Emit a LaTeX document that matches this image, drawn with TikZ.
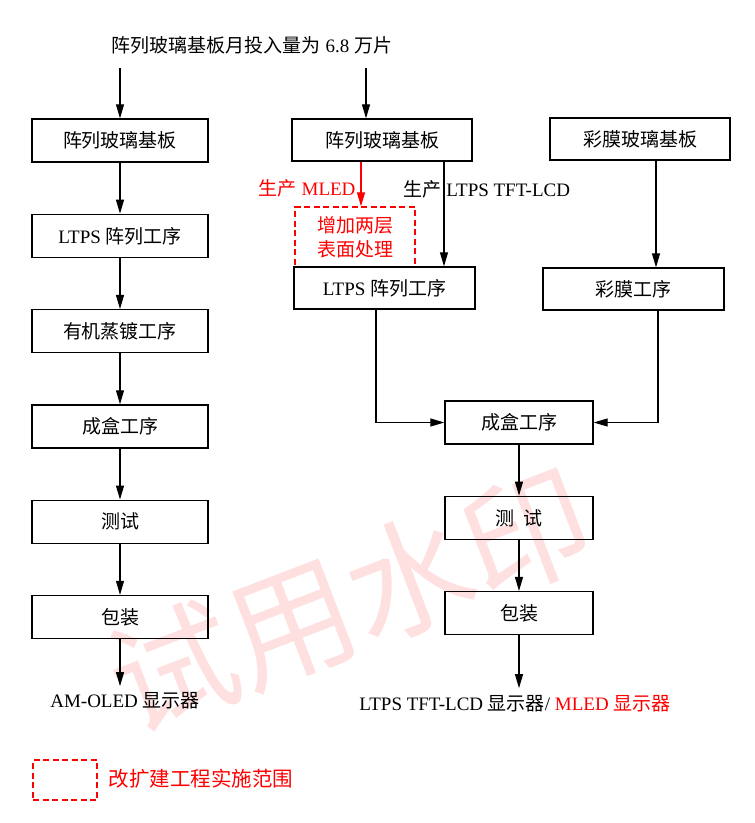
\documentclass[tikz,border=0pt]{standalone}
\usepackage{fontspec}
\setmainfont{Liberation Serif}
\newfontfamily\zhfont{Noto Sans CJK SC}
\newcommand{\zh}[1]{{\zhfont #1}}
\usepackage{tikz}
\usetikzlibrary{arrows.meta,positioning,calc}

\begin{document}
\begin{tikzpicture}[
  x=1pt, y=-1pt,
  font=\fontsize{19}{24}\selectfont,
  block/.style={rectangle, draw, line width=1.3pt, minimum width=176pt, minimum height=43pt, inner sep=2pt, align=center},
  redbox/.style={rectangle, draw=red, line width=1.3pt, dash pattern=on 6pt off 3.5pt, text=red, align=center, inner sep=2pt},
  arrow/.style={-{Triangle[length=14pt,width=8pt]}, line width=1.1pt},
  node distance=51pt
]
  \useasboundingbox (0,0) rectangle (755,823);

  % watermark
  \node[text=red!12, rotate=21, font=\zhfont\fontsize{126}{126}\selectfont] (wmark) at (350,600) {试用水印};

  \node (topline) at (252,45) {\zh{阵列玻璃基板月投入量为} 6.8 \zh{万片}};
  \coordinate (lsrc) at (120,68);
  \coordinate (msrc) at (366,68);

  % AM-OLED line
  \node[block] (l1) at (120,140.5) {\zh{阵列玻璃基板}};
  \node[block, below=of l1] (l2) {LTPS \zh{阵列工序}};
  \node[block, below=of l2] (l3) {\zh{有机蒸镀工序}};
  \node[block, below=of l3] (l4) {\zh{成盒工序}};
  \node[block, below=of l4] (l5) {\zh{测试}};
  \node[block, below=of l5] (l6) {\zh{包装}};
  \node (lout) at (125,701) {AM-OLED \zh{显示器}};

  \draw[arrow] (lsrc) -- (l1);
  \draw[arrow] (l1) -- (l2);
  \draw[arrow] (l2) -- (l3);
  \draw[arrow] (l3) -- (l4);
  \draw[arrow] (l4) -- (l5);
  \draw[arrow] (l5) -- (l6);
  \draw[arrow, shorten >=3pt] (l6.south) -- (l6.south |- lout.north);

  % LTPS TFT-LCD / MLED line
  \node[block, minimum width=180pt, minimum height=42pt] (m1) at (382,140) {\zh{阵列玻璃基板}};
  \node[redbox, minimum width=120pt, minimum height=60pt] (dbox) at (355,237) {\zh{增加两层}\\\zh{表面处理}};
  \node[block, minimum width=181pt, minimum height=42pt] (m2) at (384.5,288) {LTPS \zh{阵列工序}};
  \node[red, anchor=east] (mledlbl) at (359,188) {\zh{生产} MLED};
  \node[anchor=west] (ltpslbl) at (400,189) {\zh{生产} LTPS TFT-LCD};

  \node[block, minimum width=180pt, minimum height=42pt] (r1) at (640,139) {\zh{彩膜玻璃基板}};
  \node[block, minimum width=181pt, minimum height=42pt] (r2) at (633.5,289) {\zh{彩膜工序}};

  \node[block, minimum width=148pt] (cb) at (519,422.5) {\zh{成盒工序}};
  \node[block, minimum width=148pt, below=of cb] (ct) {\zh{测\ \ 试}};
  \node[block, minimum width=148pt, below=of ct] (cp) {\zh{包装}};
  \node (cout) at (515,704) {LTPS TFT-LCD \zh{显示器}/ \textcolor{red}{MLED \zh{显示器}}};

  \draw[arrow] (msrc) -- (msrc |- m1.north);
  \draw[arrow, red] ([xshift=6pt]dbox.north |- m1.south) -- ([xshift=6pt]dbox.north);
  \draw[arrow] ([xshift=62pt]m1.south) -- ([xshift=62pt]m1.south |- m2.north);
  \draw[arrow] ([xshift=16pt]r1.south) -- ([xshift=16pt]r1.south |- r2.north);
  \draw[arrow] ([xshift=-8.5pt]m2.south) |- (cb.west);
  \draw[arrow] ([xshift=24.5pt]r2.south) |- (cb.east);
  \draw[arrow] (cb) -- (ct);
  \draw[arrow] (ct) -- (cp);
  \draw[arrow, shorten >=4pt] (cp.south) -- (cp.south |- cout.north);

  % legend
  \node[redbox, minimum width=64pt, minimum height=40pt] (legbox) at (65,780) {};
  \node[red, anchor=west, font=\zhfont\fontsize{20.5}{24}\selectfont] (legtxt) at (105,779) {改扩建工程实施范围};
\end{tikzpicture}
\end{document}
